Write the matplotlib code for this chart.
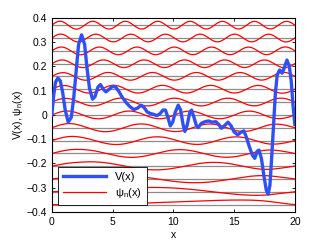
#!/usr/bin/env python

import numpy
import matplotlib
matplotlib.use("Agg")
import matplotlib.pyplot as plt

# Random potential V(x) (x, value)
v_x = [0.0, 0.15, 0.3, 0.5, 0.7, 0.9, 1.1, 1.35, 1.6, 1.8, 2.0, 2.2, 2.45, 2.7,
       2.9, 3.1, 3.35, 3.55, 3.8, 4.0, 4.25, 4.45, 4.7, 5.0, 5.25, 5.5, 5.8,
       6.1, 6.4, 6.75, 7.05, 7.35, 7.6, 7.85, 8.1, 8.4, 8.65, 8.9, 9.15, 9.35,
       9.55, 9.75, 9.95, 10.15, 10.4, 10.6, 10.8, 10.95, 11.15, 11.35, 11.5,
       11.7, 11.9, 12.05, 12.3, 12.6, 12.9, 13.2, 13.5, 13.75, 13.95, 14.2,
       14.5, 14.75, 15.0, 15.3, 15.55, 15.8, 16.0, 16.25, 16.5, 16.7, 16.9,
       17.05, 17.25, 17.45, 17.65, 17.8, 17.95, 18.1, 18.25, 18.4, 18.55,
       18.75, 18.95, 19.1, 19.35, 19.55, 19.7, 19.85, 20.0]
v_val = [0.0, 0.08, 0.135, 0.152, 0.14, 0.09, 0.02, -0.03, -0.01, 0.07, 0.18,
         0.29, 0.33, 0.29, 0.19, 0.11, 0.065, 0.075, 0.115, 0.125, 0.105,
         0.095, 0.105, 0.118, 0.115, 0.098, 0.072, 0.052, 0.035, 0.022, 0.028,
         0.04, 0.03, 0.012, 0.006, 0.002, -0.003, 0.005, 0.02, 0.02, -0.01,
         -0.045, -0.03, 0.01, 0.04, 0.02, -0.04, -0.068, -0.04, 0.01, 0.02,
         -0.01, -0.045, -0.052, -0.035, -0.028, -0.025, -0.03, -0.028, -0.04,
         -0.055, -0.045, -0.03, -0.045, -0.07, -0.082, -0.072, -0.066, -0.09,
         -0.13, -0.165, -0.179, -0.15, -0.145, -0.18, -0.25, -0.31, -0.327,
         -0.29, -0.17, -0.04, 0.09, 0.165, 0.185, 0.172, 0.19, 0.226, 0.2,
         0.14, 0.04, -0.04]

# Baselines (grey lines) the 15 lowest states are drawn on
offsets = [-0.37, -0.317, -0.264, -0.211, -0.159, -0.106, -0.053, 0.0,
           0.053, 0.106, 0.159, 0.211, 0.264, 0.317, 0.37]

x_ticks = [0, 5, 10, 15, 20]
y_ticks = [-0.4, -0.3, -0.2, -0.1, 0, 0.1, 0.2, 0.3, 0.4]

KINETIC = 1.0     # hbar^2 / 2m
PSI_SCALE = 0.05  # how big the wavefunctions are drawn
L = 20.0
N = 400


def eigenstates(n_states):
    "Lowest eigenstates of -c d2/dx2 + V(x) in a hard wall box of length L."
    dx = L / (N + 1)
    grid = numpy.arange(1, N + 1) * dx
    pot = numpy.interp(grid, v_x, v_val)
    main_diag = 2.0 * KINETIC / dx**2 + pot
    off_diag = -KINETIC / dx**2 * numpy.ones(N - 1)
    ham = numpy.diag(main_diag) + numpy.diag(off_diag, 1) + numpy.diag(off_diag, -1)
    energies, vecs = numpy.linalg.eigh(ham)
    states = []
    for k in range(n_states):
        psi = vecs[:, k] / numpy.sqrt(dx)
        # every state starts off upwards
        if psi[0] < 0:
            psi = -psi
        psi = numpy.concatenate([[0.0], psi, [0.0]])
        states.append(psi)
    full_grid = numpy.concatenate([[0.0], grid, [L]])
    return full_grid, states


def main():
    plt.rcParams['font.family'] = ['Liberation Sans', 'DejaVu Sans']
    plt.rcParams['mathtext.fontset'] = 'custom'
    plt.rcParams['mathtext.rm'] = 'Liberation Sans'
    plt.rcParams['mathtext.it'] = 'Liberation Sans'
    plt.rcParams['font.size'] = 7.5

    fig = plt.figure(figsize=(3.24, 2.45), dpi=100)
    ax = fig.add_axes([0.160, 0.135, 0.750, 0.792])

    grid, states = eigenstates(len(offsets))

    for off in offsets:
        ax.axhline(off, color='0.55', lw=0.9, zorder=1)

    for k, off in enumerate(offsets):
        line_psi, = ax.plot(grid, off + PSI_SCALE * states[k], color='#ff0000',
                            lw=0.9, zorder=2)

    line_v, = ax.plot(v_x, v_val, color='#2f50f5', lw=2.4, zorder=3,
                      solid_joinstyle='round')

    ax.set_xlim(0, 20)
    ax.set_ylim(-0.4, 0.4)
    ax.set_xticks(x_ticks)
    ax.set_yticks(y_ticks)
    ax.set_yticklabels(['\u22120.4', '\u22120.3', '\u22120.2', '\u22120.1', '0',
                        '0.1', '0.2', '0.3', '0.4'])
    ax.tick_params(direction='in', top=True, right=True, length=2.5, width=0.6)
    for spine in ax.spines.values():
        spine.set_linewidth(0.8)

    ax.set_xlabel('x', labelpad=2)
    ax.set_ylabel('V(x), \u03c8$_{\\mathrm{n}}$(x)', labelpad=1)

    leg = ax.legend([line_v, line_psi], ['V(x)', '\u03c8$_{\\mathrm{n}}$(x)'],
                    loc='lower left', bbox_to_anchor=(0.025, 0.035),
                    borderaxespad=0, fancybox=False, framealpha=1,
                    edgecolor='black', handlelength=3.8, fontsize=8,
                    borderpad=0.5, labelspacing=0.3)
    leg.get_frame().set_linewidth(0.6)
    leg.set_zorder(5)

    fig.savefig("out.png", dpi=100)
    plt.close()


if __name__ == "__main__":
    main()
